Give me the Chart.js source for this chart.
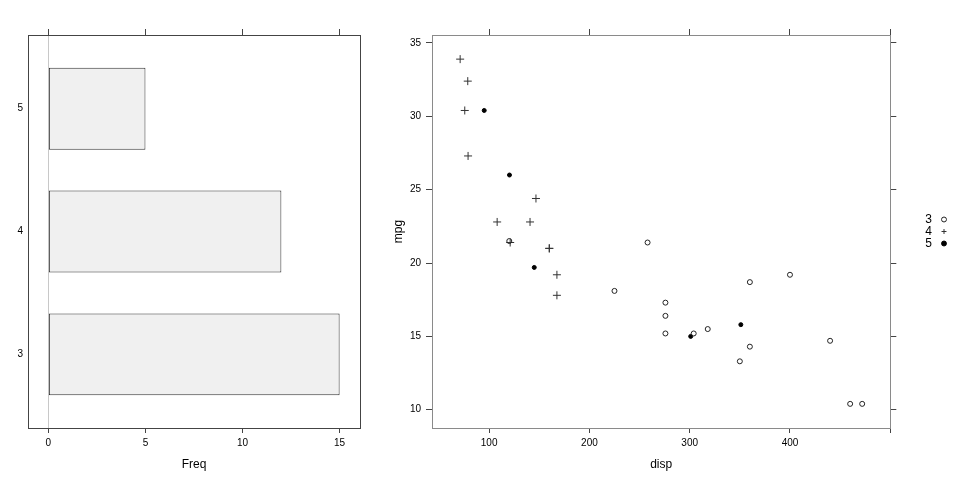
<!DOCTYPE html>
<html>
<head>
<meta charset="utf-8">
<script src="https://cdn.jsdelivr.net/npm/chart.js@4.4.1/dist/chart.umd.min.js"></script>
<style>
  body { margin: 0; background: #fff; }
  #wrap { position: relative; width: 960px; height: 480px; }
  .box { position: absolute; top: 0; height: 480px; }
</style>
</head>
<body>
<div id="wrap">
  <div class="box" style="left:0;width:400px"><canvas id="barChart"></canvas></div>
  <div class="box" style="left:380px;width:580px"><canvas id="xyChart"></canvas></div>
</div>
<script>
// gear counts (left panel)
const gearLevels = ['3', '4', '5'];
const gearFreq = [15, 12, 5];
const freqTicks = [0, 5, 10, 15];

// mpg ~ disp, grouped by gear (right panel)
const disp3 = [258, 360, 225, 360, 275.8, 275.8, 275.8, 472, 460, 440, 120.1, 318, 304, 350, 400];
const mpg3 = [21.4, 18.7, 18.1, 14.3, 16.4, 17.3, 15.2, 10.4, 10.4, 14.7, 21.5, 15.5, 15.2, 13.3, 19.2];
const disp4 = [160, 160, 108, 146.7, 140.8, 167.6, 167.6, 78.7, 75.7, 71.1, 79, 121];
const mpg4 = [21, 21, 22.8, 24.4, 22.8, 19.2, 17.8, 32.4, 30.4, 33.9, 27.3, 21.4];
const disp5 = [120.3, 95.1, 351, 145, 301];
const mpg5 = [26, 30.4, 15.8, 19.7, 15];
const dispTicks = [100, 200, 300, 400, 500];
const mpgTicks = [10, 15, 20, 25, 30, 35];

Chart.defaults.font.family = "'Liberation Sans', Arial, sans-serif";
Chart.defaults.color = '#000';
Chart.defaults.animation = false;

const tickFont = { size: 10 };
const titleFont = { size: 12 };
const pad = (lo, hi) => [lo - 0.07 * (hi - lo), hi + 0.07 * (hi - lo)];
const setTicks = (vals) => (s) => { s.ticks = vals.map(v => ({ value: v })); };

// ---------- left: barchart ----------
const [fMin, fMax] = pad(0, 15);
const leftBorder = { color: '#444', width: 1 };

new Chart(document.getElementById('barChart'), {
  type: 'bar',
  data: {
    datasets: [{
      data: gearFreq.map((f, i) => ({ x: f, y: i + 1 })),
      backgroundColor: '#f0f0f0',
      borderColor: '#333',
      borderWidth: 1,
      borderSkipped: false,
      categoryPercentage: 1,
      barPercentage: 2 / 3
    }]
  },
  options: {
    indexAxis: 'y',
    responsive: true,
    maintainAspectRatio: false,
    layout: { padding: { left: 0, right: 40, top: 0, bottom: 0 } },
    plugins: { legend: { display: false }, tooltip: { enabled: false } },
    scales: {
      x: {
        type: 'linear', position: 'bottom', min: fMin, max: fMax,
        afterBuildTicks: setTicks(freqTicks),
        afterFit: (s) => { s.height = 52; },
        grid: {
          drawOnChartArea: true,
          color: (ctx) => (ctx.tick && ctx.tick.value === 0 ? '#c8c8c8' : 'rgba(0,0,0,0)'),
          tickColor: '#444', tickLength: 5
        },
        border: leftBorder,
        ticks: { font: tickFont, padding: 4, maxRotation: 0 },
        title: { display: true, text: 'Freq', font: titleFont, padding: { top: 0, bottom: 8 } }
      },
      xTop: {
        type: 'linear', position: 'top', min: fMin, max: fMax,
        afterBuildTicks: setTicks(freqTicks),
        afterFit: (s) => { s.height = 35; },
        grid: { drawOnChartArea: false, tickColor: '#444', tickLength: 6 },
        border: leftBorder,
        ticks: { display: false }
      },
      y: {
        type: 'linear', position: 'left', min: 0.4, max: 3.6, offset: false,
        afterBuildTicks: setTicks([1, 2, 3]),
        afterFit: (s) => { s.width = 28; },
        grid: { drawOnChartArea: false, drawTicks: false, offset: false },
        border: leftBorder,
        ticks: { font: tickFont, padding: 5, callback: (v) => gearLevels[v - 1] }
      },
      yRight: {
        type: 'linear', position: 'right',
        afterFit: (s) => { s.width = 0; },
        grid: { drawOnChartArea: false, drawTicks: false },
        border: leftBorder,
        ticks: { display: false }
      }
    }
  }
});

// ---------- right: xyplot ----------
const [dMin, dMax] = pad(71.1, 472);
const [mMin, mMax] = pad(10.4, 33.9);
const rightBorder = { color: '#8a8a8a', width: 1 };
const pts = (xs, ys) => xs.map((x, i) => ({ x: x, y: ys[i] }));

new Chart(document.getElementById('xyChart'), {
  type: 'scatter',
  data: {
    datasets: [
      { label: '3', data: pts(disp3, mpg3), pointStyle: 'circle', pointRadius: 2.5,
        borderColor: '#222', backgroundColor: 'rgba(0,0,0,0)', borderWidth: 1 },
      { label: '4', data: pts(disp4, mpg4), pointStyle: 'cross', pointRadius: 4,
        borderColor: '#333', backgroundColor: '#333', borderWidth: 1 },
      { label: '5', data: pts(disp5, mpg5), pointStyle: 'circle', pointRadius: 2,
        borderColor: '#000', backgroundColor: '#000', borderWidth: 1 }
    ]
  },
  options: {
    responsive: true,
    maintainAspectRatio: false,
    layout: { padding: { left: 0, right: 10, top: 0, bottom: 0 } },
    plugins: {
      tooltip: { enabled: false },
      legend: {
        position: 'right', align: 'center', fullSize: false, rtl: true,
        labels: {
          usePointStyle: true, boxWidth: 12, boxHeight: 3.5, padding: 0,
          font: { size: 12 }, color: '#000'
        }
      }
    },
    scales: {
      x: {
        type: 'linear', position: 'bottom', min: dMin, max: dMax,
        afterBuildTicks: setTicks(dispTicks),
        afterFit: (s) => { s.height = 52; },
        grid: { drawOnChartArea: false, tickColor: '#444', tickLength: 5 },
        border: rightBorder,
        ticks: { font: tickFont, padding: 4, maxRotation: 0, callback: (v) => (v === 500 ? '' : v) },
        title: { display: true, text: 'disp', font: titleFont, padding: { top: 0, bottom: 8 } }
      },
      xTop: {
        type: 'linear', position: 'top', min: dMin, max: dMax,
        afterBuildTicks: setTicks(dispTicks),
        afterFit: (s) => { s.height = 35; },
        grid: { drawOnChartArea: false, tickColor: '#444', tickLength: 6 },
        border: rightBorder,
        ticks: { display: false }
      },
      y: {
        type: 'linear', position: 'left', min: mMin, max: mMax,
        afterBuildTicks: setTicks(mpgTicks),
        afterFit: (s) => { s.width = 52; },
        grid: { drawOnChartArea: false, tickColor: '#444', tickLength: 6 },
        border: rightBorder,
        ticks: { font: tickFont, padding: 5 },
        title: { display: true, text: 'mpg', font: titleFont, padding: { top: 11, bottom: 0 } }
      },
      yRight: {
        type: 'linear', position: 'right', min: mMin, max: mMax,
        afterBuildTicks: setTicks(mpgTicks),
        afterFit: (s) => { s.width = 25; },
        grid: { drawOnChartArea: false, tickColor: '#444', tickLength: 6 },
        border: rightBorder,
        ticks: { display: false }
      }
    }
  }
});
</script>
</body>
</html>
